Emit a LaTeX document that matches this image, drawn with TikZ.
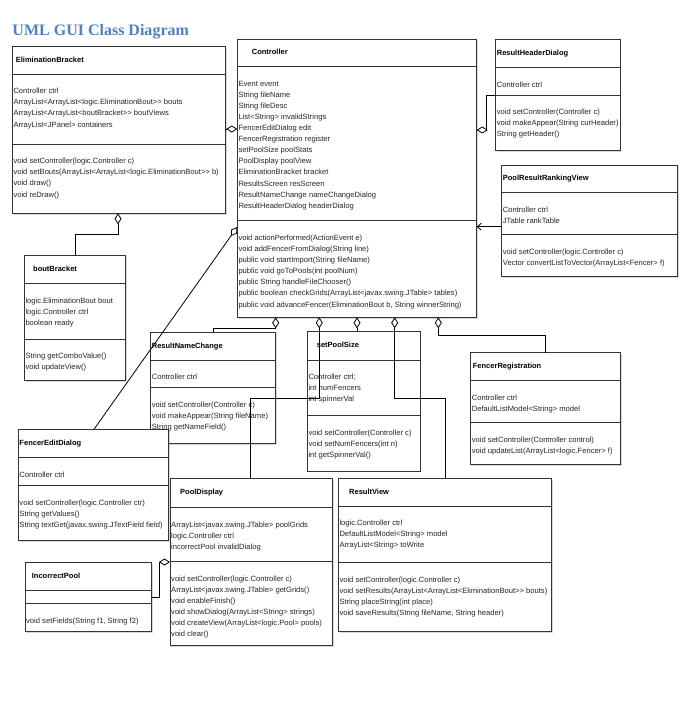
\documentclass[tikz,border=0pt]{standalone}
\usepackage{fontspec}
\usetikzlibrary{arrows.meta,shadows}
\newfontfamily\umlfont[Ligatures=TeXOff]{Liberation Sans}
\newfontfamily\headfont{Liberation Serif}
\definecolor{headblue}{RGB}{79,129,189}

\tikzset{
  classbox/.style={draw=black!80, fill=white, line width=0.8pt, inner sep=0pt, outer sep=0pt,
    drop shadow={shadow xshift=1.2pt, shadow yshift=-1.2pt, opacity=0.35, fill=black!45}},
  classline/.style={draw=black!80, line width=0.8pt},
  txt/.style={anchor=north west, inner sep=0pt, align=left, text=black!85,
    font=\umlfont\fontsize{7.6}{11.1}\selectfont},
  ttl/.style={anchor=west, inner sep=0pt, text height=5.5pt, text depth=1.5pt,
    font=\umlfont\bfseries\fontsize{7.5}{9}\selectfont},
  aggr/.style={line width=0.8pt, line join=miter, -{Diamond[open,length=11pt,width=7pt]}},
  dep/.style={line width=0.8pt, -{Straight Barb[length=4pt,width=7pt]}}
}

\newcommand{\umlclass}[9]{%
  \node[classbox, minimum width={(#4)-(#2)}, minimum height={(#7)-(#3)}]
    (#1) at ({((#2)+(#4))/2},{((#3)+(#7))/2}) {};
  \draw[classline] (#2,#5) -- (#4,#5);
  \draw[classline] (#2,#6) -- (#4,#6);
  \coordinate (#1-a) at ({(#2)+1},{(#5)+14});
  \coordinate (#1-m) at ({(#2)+1},{(#6)+14});
  \node[ttl] (#1-t) at ({(#2)+(#8)},{((#3)+(#5))/2}) {#9};
}

\begin{document}
\begin{tikzpicture}[x=1pt, y=-1pt]
\useasboundingbox (0,0) rectangle (683,706);

\node[anchor=base west, inner sep=0pt, text=headblue, font=\headfont\bfseries\fontsize{16}{18}\selectfont]
  (title) at (12.3,36) {UML GUI Class Diagram};

\umlclass{eb}{12.3}{46.7}{225.7}{74}{144}{213.3}{3.4}{EliminationBracket}
\node[txt] (eb-at) at (eb-a) {Controller ctrl\\ArrayList<ArrayList<logic.EliminationBout>> bouts\\
  ArrayList<ArrayList<boutBracket>> boutViews\\ArrayList<JPanel> containers};
\node[txt] (eb-op) at (eb-m) {void setController(logic.Controller c)\\
  void setBouts(ArrayList<ArrayList<logic.EliminationBout>> b)\\void draw()\\void reDraw()};

\umlclass{ctrl}{237.3}{39.3}{476.7}{66.7}{220.7}{317.3}{14.4}{Controller}
\node[txt] (ctrl-at) at (ctrl-a) {Event event\\String fileName\\String fileDesc\\List<String> invalidStrings\\
  FencerEditDialog edit\\FencerRegistration register\\setPoolSize poolStats\\PoolDisplay poolView\\
  EliminationBracket bracket\\ResultsScreen resScreen\\ResultNameChange nameChangeDialog\\
  ResultHeaderDialog headerDialog};
\node[txt] (ctrl-op) at (ctrl-m) {void actionPerformed(ActionEvent e)\\void addFencerFromDialog(String line)\\
  public void startImport(String fileName)\\public void goToPools(int poolNum)\\
  public String handleFileChooser()\\public boolean checkGrids(ArrayList<javax.swing.JTable> tables)\\
  public void advanceFencer(EliminationBout b, String winnerString)};

\umlclass{rhd}{495.7}{39.3}{620}{67.3}{95}{150.5}{1}{ResultHeaderDialog}
\node[txt] (rhd-at) at (rhd-a) {Controller ctrl};
\node[txt] (rhd-op) at (rhd-m) {void setController(Controller c)\\void makeAppear(String curHeader)\\
  String getHeader()};

\umlclass{prrv}{501.7}{165}{677.3}{192.7}{234.3}{276.7}{1}{PoolResultRankingView}
\node[txt] (prrv-at) at (prrv-a) {Controller ctrl\\JTable rankTable};
\node[txt] (prrv-op) at (prrv-m) {void setController(logic.Controller c)\\
  Vector convertListToVector(ArrayList<Fencer> f)};

\umlclass{bb}{24.3}{255}{125.7}{283.3}{339}{380.7}{8.7}{boutBracket}
\node[txt] (bb-at) at (bb-a) {logic.EliminationBout bout\\logic.Controller ctrl\\boolean ready};
\node[txt] (bb-op) at (bb-m) {String getComboValue()\\void updateView()};

\umlclass{rnc}{150.7}{332}{275.7}{360}{387.5}{443.3}{1}{ResultNameChange}
\node[txt] (rnc-at) at (rnc-a) {Controller ctrl};
\node[txt] (rnc-op) at (rnc-m) {void setController(Controller c)\\void makeAppear(String fileName)\\
  String getNameField()};

\umlclass{sps}{307.3}{331.7}{420}{360}{415.7}{471}{9.4}{setPoolSize}
\node[txt] (sps-at) at (sps-a) {Controller ctrl;\\int numFencers\\int spinnerVal};
\node[txt] (sps-op) at (sps-m) {void setController(Controller c)\\void setNumFencers(int n)\\
  int getSpinnerVal()};

\umlclass{fr}{470.7}{352.7}{620.7}{380.7}{422.7}{464.3}{2}{FencerRegistration}
\node[txt] (fr-at) at (fr-a) {Controller ctrl\\DefaultListModel<String> model};
\node[txt] (fr-op) at (fr-m) {void setController(Controller control)\\
  void updateList(ArrayList<logic.Fencer> f)};

\umlclass{fed}{18.3}{429.3}{168.3}{457.3}{485.7}{540.7}{1}{FencerEditDialog}
\node[txt] (fed-at) at (fed-a) {Controller ctrl};
\node[txt] (fed-op) at (fed-m) {void setController(logic.Controller ctr)\\String getValues()\\
  String textGet(javax.swing.JTextField field)};

\umlclass{pd}{170}{478.3}{332.3}{507.3}{561.7}{645.7}{10}{PoolDisplay}
\node[txt] (pd-at) at (pd-a) {ArrayList<javax.swing.JTable> poolGrids\\logic.Controller ctrl\\
  incorrectPool invalidDialog};
\node[txt] (pd-op) at (pd-m) {void setController(logic.Controller c)\\ArrayList<javax.swing.JTable> getGrids()\\
  void enableFinish()\\void showDialog(ArrayList<String> strings)\\
  void createView(ArrayList<logic.Pool> pools)\\void clear()};

\umlclass{rv}{338.3}{478.3}{551.7}{506}{562.3}{631.7}{10.7}{ResultView}
\node[txt] (rv-at) at (rv-a) {logic.Controller ctrl\\DefaultListModel<String> model\\ArrayList<String> toWrite};
\node[txt] (rv-op) at (rv-m) {void setController(logic.Controller c)\\
  void setResults(ArrayList<ArrayList<EliminationBout>> bouts)\\String placeString(int place)\\
  void saveResults(String fileName, String header)};

\umlclass{ip}{25}{562.7}{151.5}{590}{603.3}{631.7}{6.7}{IncorrectPool}
\node[txt] (ip-op) at (ip-m) {void setFields(String f1, String f2)};

\draw[aggr] (eb.east |- 0,129) -- (ctrl.west |- 0,129);
\draw[aggr] (bb.north) |- (118,234) -- (eb.south -| 118,0);
\draw[aggr] (rhd.west |- 0,95) -| (486,130) -- (ctrl.east |- 0,130);
\draw[dep] (prrv.west |- 0,226.7) -- (ctrl.east |- 0,226.7);
\draw[aggr] (fed.north -| 94,0) -- (ctrl.west |- 0,227);
\draw[aggr] (rnc.north -| 213,0) |- (275.7,328) -- (ctrl.south -| 275.7,0);
\draw[aggr] (pd.north -| 250,0) |- (319.3,398) -- (ctrl.south -| 319.3,0);
\draw[aggr] (sps.north -| 357,0) -- (ctrl.south -| 357,0);
\draw[aggr] (rv.north -| 445,0) |- (394.7,398) -- (ctrl.south -| 394.7,0);
\draw[aggr] (fr.north) |- (438.3,335) -- (ctrl.south -| 438.3,0);
\draw[aggr] (ip.east |- 0,597) -| (159,562) -- (pd.west |- 0,562);
\end{tikzpicture}
\end{document}
